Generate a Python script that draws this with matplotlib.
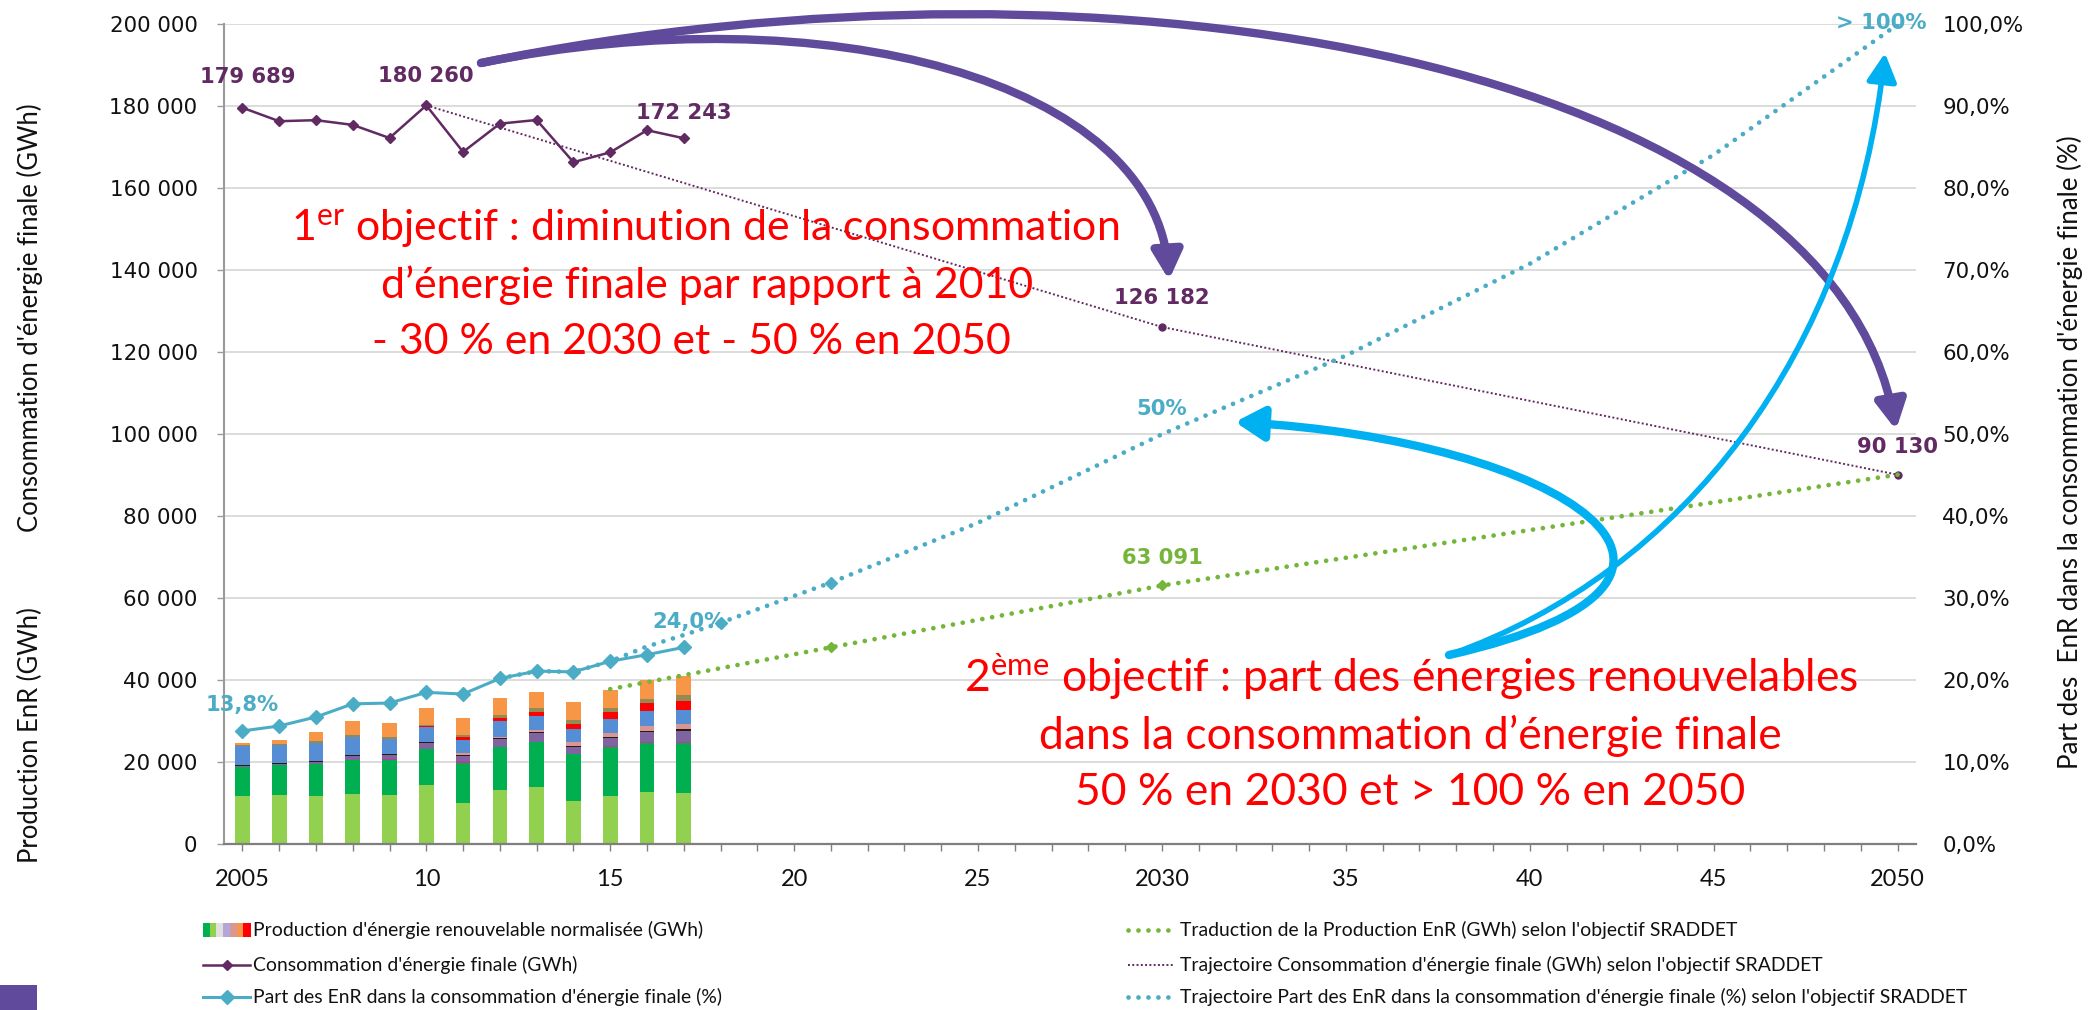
import numpy as np
import matplotlib
matplotlib.use("Agg")
import matplotlib.pyplot as plt
from matplotlib.patches import FancyArrowPatch, Rectangle
from matplotlib.path import Path
from matplotlib.transforms import IdentityTransform
from matplotlib.lines import Line2D
from matplotlib.ticker import FuncFormatter, FixedLocator

plt.rcParams['font.family'] = ['Lato', 'DejaVu Sans']
plt.rcParams['mathtext.fontset'] = 'custom'
plt.rcParams['mathtext.rm'] = 'Lato'
plt.rcParams['mathtext.it'] = 'Lato:italic'
plt.rcParams['mathtext.bf'] = 'Lato:bold'

# ---------------- data ----------------
years_hist = [2005, 2006, 2007, 2008, 2009, 2010, 2011, 2012, 2013, 2014, 2015, 2016, 2017]
# renewable production components (GWh), bottom -> top
prod_bois = [11800, 12000, 11600, 12200, 12000, 14400, 10100, 13300, 13800, 10500, 11800, 12800, 12500]
prod_hydro = [7100, 7300, 7900, 8400, 8600, 8900, 9700, 10400, 11100, 11400, 11800, 11900, 12100]
prod_divers = [0, 0, 0, 0, 100, 0, 400, 0, 0, 150, 300, 300, 300]
prod_pac = [200, 200, 400, 900, 1000, 1400, 1300, 2000, 2200, 1600, 1900, 2300, 2600]
prod_biogaz = [300, 300, 300, 300, 300, 200, 200, 200, 200, 250, 300, 300, 500]
prod_solth = [0, 0, 0, 0, 0, 100, 500, 300, 600, 900, 900, 1200, 1300]
prod_dechets = [4400, 4300, 4400, 4400, 3700, 3500, 3300, 3800, 3400, 3200, 3500, 3600, 3400]
prod_pv = [0, 0, 0, 0, 0, 300, 600, 650, 800, 1300, 1700, 2000, 2300]
prod_geo = [300, 300, 500, 400, 400, 200, 600, 800, 1000, 900, 1000, 1000, 1300]
prod_eolien = [500, 1100, 2300, 3500, 3500, 4300, 4100, 4150, 4100, 4400, 4400, 4600, 4700]

conso = [179689, 176400, 176650, 175500, 172300, 180260, 168900, 175800, 176700, 166400, 168800, 174200, 172243]
part_enr = [13.8, 14.4, 15.5, 17.1, 17.2, 18.5, 18.3, 20.2, 21.1, 21.0, 22.3, 23.1, 24.0]

traj_conso_years = [2010, 2030, 2050]
traj_conso = [180260, 126182, 90130]
traj_prod_years = [2015, 2018, 2021, 2030, 2050]
traj_prod = [37800, 42900, 48000, 63091, 90130]
traj_part_years = [2012, 2013, 2014, 2015, 2016, 2017, 2018, 2021, 2025, 2030, 2035, 2040, 2045, 2050]
traj_part = [20.2, 21.1, 21.0, 22.3, 24.1, 25.5, 27.0, 31.9, 39.2, 50.0, 59.6, 70.8, 84.1, 100.0]

xtick_years = [2005, 2010, 2015, 2020, 2025, 2030, 2035, 2040, 2045, 2050]
xtick_labels = ["2005", "10", "15", "20", "25", "2030", "35", "40", "45", "2050"]

legend_labels = [
    "Production d'énergie renouvelable normalisée (GWh)",
    "Consommation d'énergie finale (GWh)",
    "Part des EnR dans la consommation d'énergie finale (%)",
    "Traduction de la Production EnR (GWh) selon l'objectif SRADDET",
    "Trajectoire Consommation d'énergie finale (GWh) selon l'objectif SRADDET",
    "Trajectoire Part des EnR dans la consommation d'énergie finale (%) selon l'objectif SRADDET",
]

# ---------------- style ----------------
W, H = 2093, 1010
C_PURPLE = '#612a63'
C_CYAN = '#4bacc6'
C_GREEN = '#74b63a'
C_ARROW_P = '#604a9b'
C_ARROW_C = '#00b0f0'
bar_colors = ['#92d050', '#00b050', '#cc3399', '#8064a2', '#2b1a0e', '#d99694',
              '#558ed5', '#ff0000', '#948a54', '#f79646']

fig = plt.figure(figsize=(W / 100, H / 100), dpi=100)
ax = fig.add_axes([224 / W, 1 - 844 / H, (1916 - 224) / W, (844 - 24.5) / H])
ax2 = ax.twinx()

ax.set_xlim(2004.5, 2050.5)
ax.set_ylim(0, 200000)
ax2.set_ylim(0, 100)

# bars
components = [prod_bois, prod_hydro, prod_divers, prod_pac, prod_biogaz, prod_solth,
              prod_dechets, prod_pv, prod_geo, prod_eolien]
bottom = np.zeros(len(years_hist))
for comp, col in zip(components, bar_colors):
    ax.bar(years_hist, comp, bottom=bottom, width=0.4, color=col, edgecolor='none', zorder=2)
    bottom += np.array(comp)

# lines on left axis
ax.plot(traj_conso_years, traj_conso, color=C_PURPLE, lw=1.4, ls=(0, (1, 1.2)), zorder=3,
        marker='o', ms=5, markevery=[1, 2])
ax.plot(traj_prod_years, traj_prod, color=C_GREEN, lw=3.4, ls=(0, (0.01, 2.1)),
        dash_capstyle='round', zorder=3, marker='D', ms=5.5, markevery=[2, 3])
ax.plot(years_hist, conso, color=C_PURPLE, lw=1.8, marker='D', ms=5, zorder=4)

# lines on right axis
ax2.plot(traj_part_years, traj_part, color=C_CYAN, lw=3.4, ls=(0, (0.01, 2.1)),
         dash_capstyle='round', zorder=2, marker='D', ms=6, markevery=[6, 7])
ax2.plot(years_hist, part_enr, color=C_CYAN, lw=2.2, marker='D', ms=7, zorder=3)


def fmt_int(v):
    return f"{int(round(v)):,}".replace(',', ' ')


lab_kw = dict(textcoords='offset points', ha='center', va='center', fontsize=15.2,
              fontweight='bold', family='DejaVu Sans')
ax.annotate(fmt_int(conso[0]), (years_hist[0], conso[0]), xytext=(4, 22), color=C_PURPLE, **lab_kw)
ax.annotate(fmt_int(conso[5]), (years_hist[5], conso[5]), xytext=(0, 21), color=C_PURPLE, **lab_kw)
ax.annotate(fmt_int(conso[-1]), (years_hist[-1], conso[-1]), xytext=(0, 18), color=C_PURPLE, **lab_kw)
ax.annotate(fmt_int(traj_conso[1]), (traj_conso_years[1], traj_conso[1]), xytext=(0, 20.5), color=C_PURPLE, **lab_kw)
ax.annotate(fmt_int(traj_conso[2]), (traj_conso_years[2], traj_conso[2]), xytext=(0, 20), color=C_PURPLE, **lab_kw)
ax.annotate(fmt_int(traj_prod[3]), (traj_prod_years[3], traj_prod[3]), xytext=(0, 20), color=C_GREEN, **lab_kw)
ax2.annotate(f"{traj_part[9]:.0f}%", (traj_part_years[9], traj_part[9]), xytext=(0, 18), color=C_CYAN, **lab_kw)
ax2.annotate(f"> {traj_part[-1]:.0f}%", (traj_part_years[-1], traj_part[-1]), xytext=(-12, 1), color=C_CYAN, **lab_kw)
ax2.annotate(f"{part_enr[0]:.1f}%".replace('.', ','), (years_hist[0], part_enr[0]), xytext=(0, 18.5), color=C_CYAN, **lab_kw)
ax2.annotate(f"{part_enr[-1]:.1f}%".replace('.', ','), (years_hist[-1], part_enr[-1]), xytext=(4, 18), color=C_CYAN, **lab_kw)

# axes styling
ax.yaxis.set_major_locator(FixedLocator(np.arange(0, 200001, 20000)))
ax.yaxis.set_major_formatter(FuncFormatter(lambda v, p: fmt_int(v)))
ax2.yaxis.set_major_locator(FixedLocator(np.arange(0, 101, 10)))
ax2.yaxis.set_major_formatter(FuncFormatter(lambda v, p: f"{v:.1f}%".replace('.', ',')))
ax.set_xticks(range(2005, 2051))
ax.set_xticklabels([xtick_labels[xtick_years.index(y)] if y in xtick_years else '' for y in range(2005, 2051)])

ax.yaxis.grid(True, color='#d9d9d9', lw=1.3)
ax.set_axisbelow(True)
for a in (ax, ax2):
    a.spines['top'].set_visible(False)
    a.spines['right'].set_visible(False)
ax2.spines['left'].set_visible(False)
ax2.spines['bottom'].set_visible(False)
ax.spines['left'].set_color('#9a9a9a')
ax.spines['left'].set_linewidth(1.5)
ax.spines['bottom'].set_color('#7f7f7f')
ax.spines['bottom'].set_linewidth(1.6)
ax.tick_params(axis='y', length=5, width=1, color='#9a9a9a', pad=14, labelsize=15.4,
               labelfontfamily='DejaVu Sans', labelcolor='#111111')
ax.tick_params(axis='x', length=5, width=1, color='#7f7f7f', pad=13, labelsize=17,
               labelcolor='#111111')
ax2.tick_params(axis='y', length=0, pad=19, labelsize=15.4, labelfontfamily='DejaVu Sans',
                labelcolor='#111111')

renderer = fig.canvas.get_renderer()


def fit(t, target):
    bb = t.get_window_extent(renderer)
    w = max(bb.width, bb.height)
    t.set_fontsize(t.get_fontsize() * target / w)
    return t.get_fontsize()


def fpos(x, y):
    return (x / W, 1 - y / H)


# axis titles
t_a = fig.text(*fpos(30, 318), "Consommation d'énergie finale (GWh)", rotation=90,
               ha='center', va='center', fontsize=16, color='#111111')
fs_ax = fit(t_a, 431)
fig.text(*fpos(30, 735), "Production EnR (GWh)", rotation=90, ha='center', va='center',
         fontsize=fs_ax, color='#111111')
t_r = fig.text(*fpos(2070, 452), "Part des  EnR dans la consommation d'énergie finale (%)",
               rotation=90, ha='center', va='center', fontsize=16, color='#111111')
fit(t_r, 634)

# red annotation texts
red1 = [r"1$^{\mathrm{er}}$ objectif : diminution de la consommation",
        "d’énergie finale par rapport à 2010",
        "- 30 % en 2030 et - 50 % en 2050"]
red1_pos = [(705, 229), (707, 286), (691, 342)]
red2 = [r"2$^{\mathrm{ème}}$ objectif : part des énergies renouvelables",
        "dans la consommation d’énergie finale",
        "50 % en 2030 et > 100 % en 2050"]
red2_pos = [(1411, 680), (1410, 737), (1410, 793)]
for lines, pos, target in ((red1, red1_pos, 829), (red2, red2_pos, 894)):
    t0 = fig.text(*fpos(*pos[0]), lines[0], ha='center', va='baseline', fontsize=28,
                  color='#ff0000', zorder=8)
    fs = fit(t0, target)
    em = fs * 100 / 72
    t0.set_position(fpos(pos[0][0], pos[0][1] + 0.27 * em))
    for s, p in zip(lines[1:], pos[1:]):
        fig.text(*fpos(p[0], p[1] + 0.27 * em), s, ha='center', va='baseline', fontsize=fs,
                 color='#ff0000', zorder=8)


# arrows
def P(x, y):
    return (x, H - y)


def bez_arrow(p0, c1, c2, p3, color, lw, hl, hw):
    path = Path([P(*p0), P(*c1), P(*c2), P(*p3)],
                [Path.MOVETO, Path.CURVE4, Path.CURVE4, Path.CURVE4])
    arr = FancyArrowPatch(path=path, arrowstyle=f"-|>,head_length={hl},head_width={hw}",
                          color=color, lw=lw, transform=IdentityTransform(),
                          mutation_scale=1, zorder=10)
    fig.add_artist(arr)


bez_arrow((481, 63), (1118, -67), (1833, 66), (1896, 430), C_ARROW_P, 6, 17, 9)
bez_arrow((481, 63), (824, -7), (1157, 80), (1169, 280), C_ARROW_P, 6, 17, 9)
bez_arrow((1449, 655), (1780, 580), (1560, 440), (1235, 422), C_ARROW_C, 6, 17, 10)
bez_arrow((1449, 655), (1684, 572), (1852, 353), (1885, 53), C_ARROW_C, 4, 17, 9)

# legend (manual)
rows = [930, 965, 997]
idt = IdentityTransform()
fs_leg = None
for i, lab in enumerate(legend_labels):
    col = i // 3
    y = rows[i % 3]
    x_text = 253 if col == 0 else 1180
    t = fig.text(*fpos(x_text, y), lab, ha='left', va='center', fontsize=14, color='#111111')
    if fs_leg is None:
        fs_leg = fit(t, 452)
    else:
        t.set_fontsize(fs_leg)

# legend handles
sw_cols = ['#00b050', '#92d050', '#e0e0e0', '#b4a7d6', '#d99694', '#f79646', '#ff0000']
x0, x1 = 203, 250
step = (x1 - x0) / len(sw_cols)
for k, c in enumerate(sw_cols):
    fig.add_artist(Rectangle((x0 + k * step, H - rows[0] - 7), step + 0.5, 14, color=c,
                             transform=idt, lw=0))
fig.add_artist(Line2D([203, 226.5, 250], [H - rows[1]] * 3, color=C_PURPLE, lw=1.8, marker='D',
                      ms=5, markevery=[1], transform=idt))
fig.add_artist(Line2D([203, 226.5, 250], [H - rows[2]] * 3, color=C_CYAN, lw=2.2, marker='D',
                      ms=7, markevery=[1], transform=idt))
fig.add_artist(Line2D([1128, 1174], [H - rows[0]] * 2, color=C_GREEN, lw=3.4,
                      ls=(0, (0.01, 2.1)), dash_capstyle='round', transform=idt))
fig.add_artist(Line2D([1128, 1174], [H - rows[1]] * 2, color=C_PURPLE, lw=1.4,
                      ls=(0, (1, 1.2)), transform=idt))
fig.add_artist(Line2D([1128, 1174], [H - rows[2]] * 2, color=C_CYAN, lw=3.4,
                      ls=(0, (0.01, 2.1)), dash_capstyle='round', transform=idt))

# small square bottom-left
fig.add_artist(Rectangle((0, 0), 37, 25, color='#604a9b', transform=idt, lw=0))

fig.savefig("out.png", dpi=100)
